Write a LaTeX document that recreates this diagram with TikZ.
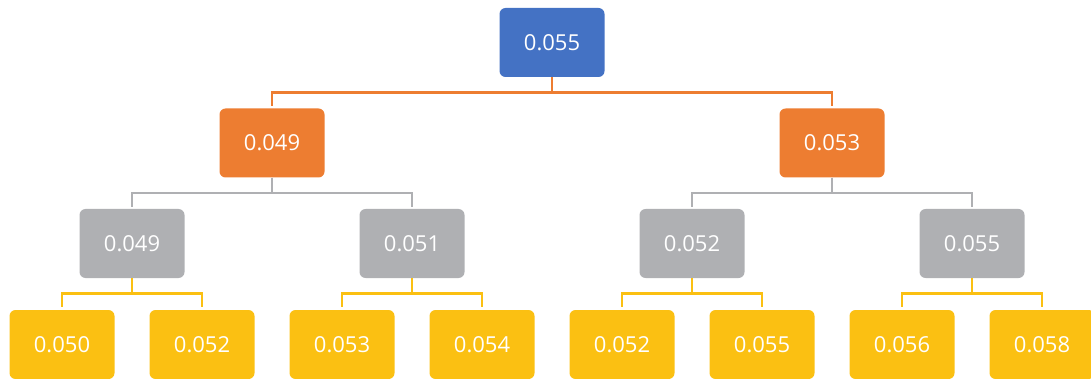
\documentclass[tikz,border=0pt]{standalone}
\usepackage{fontspec}
\setmainfont{Open Sans}
\definecolor{cblue}{HTML}{4472C4}
\definecolor{corange}{HTML}{ED7D31}
\definecolor{cgray}{HTML}{AFB0B3}
\definecolor{cyellow}{HTML}{FBC012}
\begin{document}
\begin{tikzpicture}[x=1pt,y=-1pt,
  box/.style={rounded corners=6pt, minimum width=105pt, minimum height=69pt, inner sep=0pt, text=white, font=\fontsize{22}{26}\selectfont},
  lvl0/.style={box, fill=cblue},
  lvl1/.style={box, fill=corange},
  lvl2/.style={box, fill=cgray},
  lvl3/.style={box, fill=cyellow},
  link/.style={line width=2.5pt}]
\useasboundingbox (0,0) rectangle (1091,379);
\node[lvl0] (r) at (552,42.5) {0.055};
\node[lvl1] (a) at (272,143) {0.049};
\node[lvl1] (b) at (832,143) {0.053};
\node[lvl2] (a1) at (132,243.5) {0.049};
\node[lvl2] (a2) at (412,243.5) {0.051};
\node[lvl2] (b1) at (692,243.5) {0.052};
\node[lvl2] (b2) at (972,243.5) {0.055};
\node[lvl3] (y1) at (62,344.5) {0.050};
\node[lvl3] (y2) at (202,344.5) {0.052};
\node[lvl3] (y3) at (342,344.5) {0.053};
\node[lvl3] (y4) at (482,344.5) {0.054};
\node[lvl3] (y5) at (622,344.5) {0.052};
\node[lvl3] (y6) at (762,344.5) {0.055};
\node[lvl3] (y7) at (902,344.5) {0.056};
\node[lvl3] (y8) at (1042,344.5) {0.058};
\foreach \p/\c in {r/a, r/b}
  \draw[link, corange] (\p.south) -- ++(0,15.5) -| ([yshift=2pt]\c.north);
\foreach \p/\c in {a/a1, a/a2, b/b1, b/b2}
  \draw[link, cgray] (\p.south) -- ++(0,15.5) -| ([yshift=2pt]\c.north);
\foreach \p/\c in {a1/y1, a1/y2, a2/y3, a2/y4, b1/y5, b1/y6, b2/y7, b2/y8}
  \draw[link, cyellow] (\p.south) -- ++(0,15.5) -| ([yshift=3pt]\c.north);
\end{tikzpicture}
\end{document}
